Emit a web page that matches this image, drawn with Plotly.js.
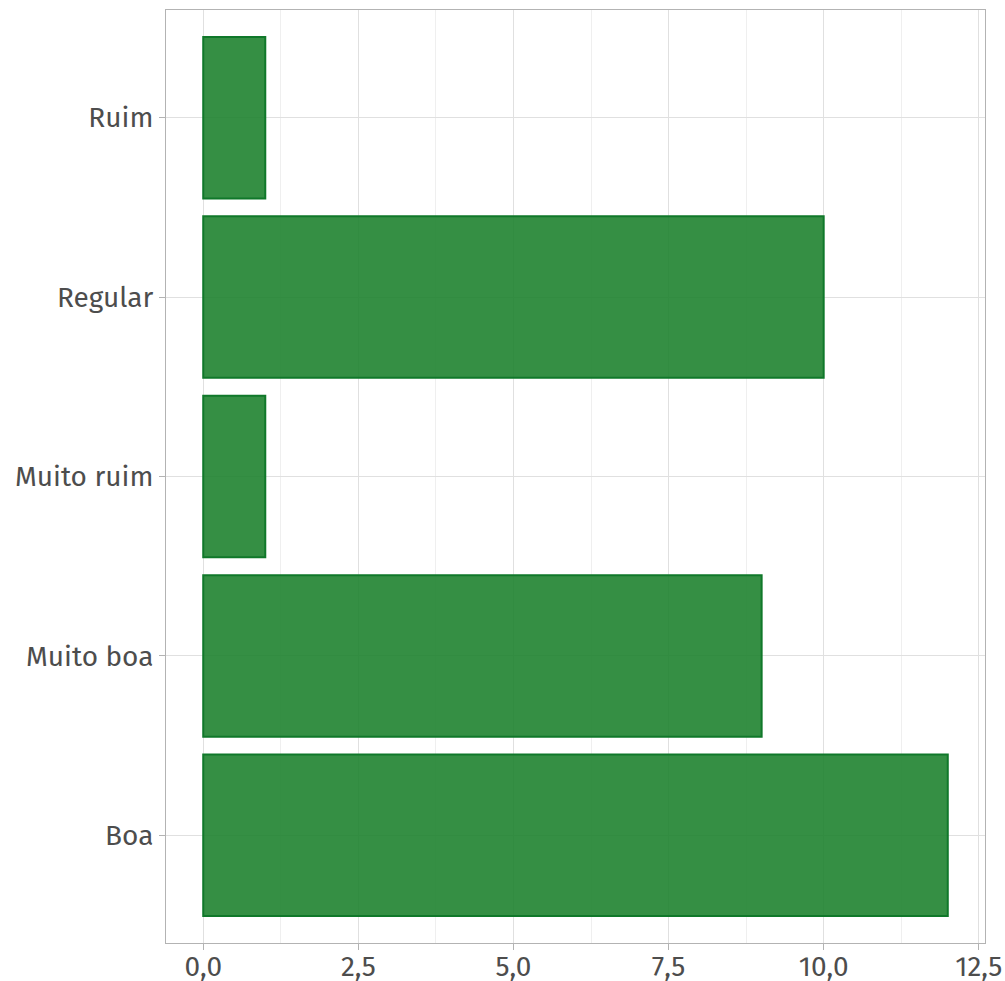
<!DOCTYPE html>
<html>
<head>
<meta charset="utf-8">
<script src="https://cdn.plot.ly/plotly-3.0.1.min.js"></script>
<style>html,body{margin:0;padding:0;background:#fff;overflow:hidden;}#chart{width:1005px;height:981px;}</style>
</head>
<body>
<div id="chart"></div>
<script>
const categories = ["Boa", "Muito boa", "Muito ruim", "Regular", "Ruim"];
const counts = [12, 9, 1, 10, 1];
const xTickVals = [0, 2.5, 5, 7.5, 10, 12.5];

const trace = {
  type: 'bar',
  orientation: 'h',
  y: categories,
  x: counts,
  width: 0.9,
  marker: {color: 'rgba(31,131,48,0.9)', line: {color: '#10782a', width: 2}},
  hoverinfo: 'x+y'
};

const layout = {
  width: 1005, height: 981,
  margin: {l: 166, r: 20, t: 10, b: 38},
  paper_bgcolor: '#fff', plot_bgcolor: '#fff',
  separators: ',.',
  showlegend: false,
  font: {family: 'Fira Sans, Open Sans, sans-serif', size: 28, color: '#4d4d4d'},
  xaxis: {
    range: [-0.6, 12.6],
    tickvals: xTickVals,
    tickformat: '.1f',
    showgrid: true, gridcolor: '#e0e0e0', gridwidth: 1,
    minor: {tickvals: [1.25, 3.75, 6.25, 8.75, 11.25], showgrid: true, gridcolor: '#efefef', gridwidth: 1, ticks: ''},
    zeroline: false,
    showline: true, linecolor: '#b3b3b3', linewidth: 1, mirror: true,
    ticks: 'outside', ticklen: 6, tickcolor: '#b3b3b3', tickwidth: 1,
    ticklabelstandoff: -8,
    tickfont: {size: 28, color: '#4d4d4d'}
  },
  yaxis: {
    type: 'category',
    categoryorder: 'array', categoryarray: categories,
    range: [-0.6, 4.6],
    showgrid: true, gridcolor: '#e0e0e0', gridwidth: 1,
    zeroline: false,
    showline: true, linecolor: '#b3b3b3', linewidth: 1, mirror: true,
    ticks: 'outside', ticklen: 6, tickcolor: '#b3b3b3', tickwidth: 1,
    tickfont: {size: 28, color: '#4d4d4d'}
  }
};

Plotly.newPlot('chart', [trace], layout, {displayModeBar: false, staticPlot: true});
</script>
</body>
</html>
